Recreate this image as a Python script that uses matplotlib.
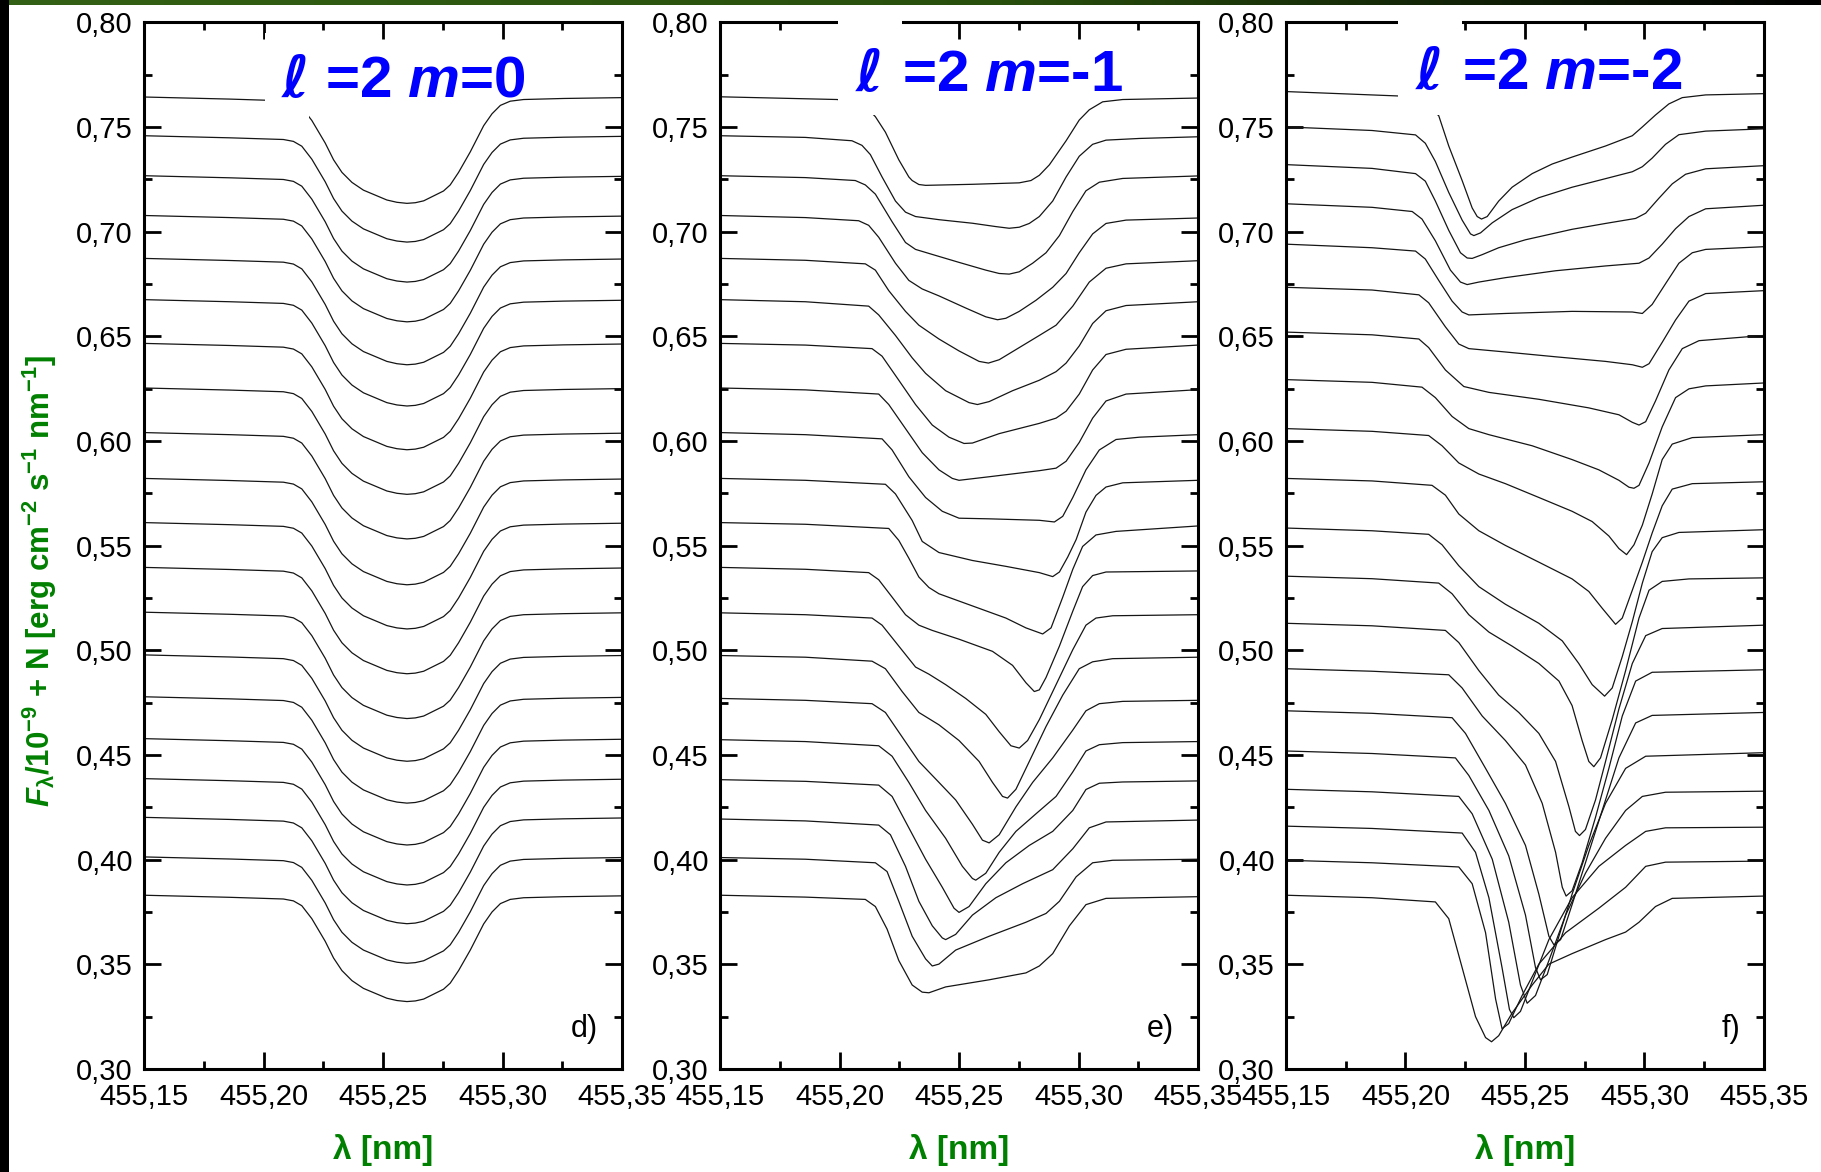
import numpy as np
import matplotlib
matplotlib.use('Agg')
import matplotlib.pyplot as plt
from matplotlib.patches import Rectangle
from matplotlib.ticker import MultipleLocator

plt.rcParams['font.family'] = ['Liberation Sans Narrow', 'Liberation Sans', 'DejaVu Sans']
plt.rcParams['mathtext.fontset'] = 'custom'
plt.rcParams['mathtext.rm'] = 'Liberation Sans:bold'
plt.rcParams['mathtext.it'] = 'Liberation Sans:italic:bold'
plt.rcParams['mathtext.bf'] = 'Liberation Sans:bold'

# ---------------- axes ticks ----------------
X_TICKS = [455.15, 455.20, 455.25, 455.30, 455.35]
X_TICK_LABELS = ['455,15', '455,20', '455,25', '455,30', '455,35']
Y_TICKS = [0.30, 0.35, 0.40, 0.45, 0.50, 0.55, 0.60, 0.65, 0.70, 0.75, 0.80]
Y_TICK_LABELS = ['0,30', '0,35', '0,40', '0,45', '0,50', '0,55', '0,60', '0,65', '0,70', '0,75', '0,80']

MODES = [r'=2 $m$=0', r'=2 $m$=-1', r'=2 $m$=-2']
LETTERS = ['d)', 'e)', 'f)']

# ---------------- panel d): l=2 m=0, one profile shifted by N ----------------
P1_LEVELS = [0.7643, 0.7458, 0.7267, 0.7077, 0.6872, 0.6675, 0.6466, 0.6253, 0.6040, 0.5821,
             0.5610, 0.5396, 0.5182, 0.4978, 0.4778, 0.4578, 0.4387, 0.4202, 0.4013, 0.3830]
P1_LAM = [455.1500, 455.1860, 455.2083, 455.2125, 455.2160, 455.2202, 455.2258, 455.2293, 455.2328,
          455.2370, 455.2418, 455.2516, 455.2558, 455.2600, 455.2635, 455.2670, 455.2753, 455.2781,
          455.2816, 455.2865, 455.2921, 455.2956, 455.2991, 455.3032, 455.3088, 455.3256, 455.3500]
P1_DEPTH = [0.0000, 0.0010, 0.0018, 0.0027, 0.0050, 0.0112, 0.0220, 0.0300, 0.0360,
            0.0408, 0.0445, 0.0492, 0.0503, 0.0508, 0.0505, 0.0496, 0.0449, 0.0420,
            0.0360, 0.0262, 0.0137, 0.0080, 0.0040, 0.0020, 0.0012, 0.0007, 0.0003]

# ---------------- panel e): l=2 m=-1 ----------------
P2_LAM = [
    [455.1500, 455.1990, 455.2080, 455.2122, 455.2150, 455.2192, 455.2248, 455.2290, 455.2304, 455.2332, 455.2360,
     455.2556, 455.2752, 455.2801, 455.2836, 455.2878, 455.2948, 455.3003, 455.3045, 455.3101, 455.3185, 455.3500],
    [455.1500, 455.1857, 455.2052, 455.2094, 455.2129, 455.2178, 455.2234, 455.2276, 455.2318, 455.2416, 455.2556,
     455.2654, 455.2710, 455.2752, 455.2794, 455.2836, 455.2892, 455.2948, 455.3003, 455.3059, 455.3115, 455.3255, 455.3500],
    [455.1500, 455.1857, 455.2066, 455.2108, 455.2150, 455.2220, 455.2276, 455.2318, 455.2388, 455.2500, 455.2612,
     455.2668, 455.2710, 455.2752, 455.2808, 455.2864, 455.2920, 455.2976, 455.3031, 455.3087, 455.3185, 455.3500],
    [455.1500, 455.1857, 455.2080, 455.2122, 455.2164, 455.2234, 455.2290, 455.2346, 455.2416, 455.2528, 455.2612,
     455.2661, 455.2696, 455.2752, 455.2822, 455.2892, 455.2948, 455.3003, 455.3059, 455.3115, 455.3199, 455.3500],
    [455.1500, 455.1857, 455.2108, 455.2150, 455.2206, 455.2276, 455.2332, 455.2416, 455.2500, 455.2584, 455.2623,
     455.2668, 455.2752, 455.2836, 455.2906, 455.2976, 455.3045, 455.3115, 455.3199, 455.3500],
    [455.1500, 455.1857, 455.2122, 455.2164, 455.2234, 455.2304, 455.2360, 455.2444, 455.2542, 455.2577, 455.2626,
     455.2724, 455.2836, 455.2906, 455.2948, 455.3003, 455.3059, 455.3115, 455.3199, 455.3500],
    [455.1500, 455.1857, 455.2136, 455.2178, 455.2248, 455.2318, 455.2388, 455.2458, 455.2521, 455.2556, 455.2668,
     455.2836, 455.2906, 455.2948, 455.3003, 455.3059, 455.3115, 455.3199, 455.3500],
    [455.1500, 455.1857, 455.2164, 455.2206, 455.2276, 455.2346, 455.2416, 455.2472, 455.2500, 455.2626, 455.2836,
     455.2906, 455.2948, 455.3003, 455.3059, 455.3115, 455.3199, 455.3500],
    [455.1500, 455.1857, 455.2178, 455.2220, 455.2290, 455.2360, 455.2430, 455.2500, 455.2626, 455.2836, 455.2899,
     455.2934, 455.2976, 455.3031, 455.3087, 455.3157, 455.3255, 455.3500],
    [455.1500, 455.1857, 455.2192, 455.2234, 455.2304, 455.2346, 455.2416, 455.2556, 455.2696, 455.2836, 455.2892,
     455.2920, 455.2955, 455.2990, 455.3031, 455.3073, 455.3115, 455.3185, 455.3500],
    [455.1500, 455.1857, 455.2206, 455.2248, 455.2290, 455.2332, 455.2374, 455.2416, 455.2556, 455.2696, 455.2780,
     455.2850, 455.2885, 455.2934, 455.2976, 455.3017, 455.3073, 455.3157, 455.3500],
    [455.1500, 455.1857, 455.2122, 455.2164, 455.2220, 455.2276, 455.2332, 455.2388, 455.2500, 455.2640, 455.2724,
     455.2780, 455.2815, 455.2836, 455.2864, 455.2920, 455.2976, 455.3017, 455.3059, 455.3115, 455.3500],
    [455.1500, 455.1857, 455.2136, 455.2178, 455.2248, 455.2318, 455.2374, 455.2444, 455.2528, 455.2612, 455.2668,
     455.2717, 455.2752, 455.2787, 455.2836, 455.2906, 455.2976, 455.3031, 455.3073, 455.3143, 455.3500],
    [455.1500, 455.1857, 455.2136, 455.2192, 455.2262, 455.2332, 455.2416, 455.2500, 455.2584, 455.2640, 455.2682,
     455.2703, 455.2738, 455.2794, 455.2864, 455.2934, 455.3003, 455.3059, 455.3143, 455.3500],
    [455.1500, 455.1857, 455.2136, 455.2192, 455.2262, 455.2332, 455.2416, 455.2486, 455.2556, 455.2598, 455.2626,
     455.2668, 455.2738, 455.2808, 455.2892, 455.2976, 455.3031, 455.3087, 455.3185, 455.3500],
    [455.1500, 455.1857, 455.2164, 455.2220, 455.2290, 455.2360, 455.2444, 455.2514, 455.2556, 455.2570, 455.2612,
     455.2668, 455.2738, 455.2822, 455.2906, 455.2976, 455.3031, 455.3087, 455.3185, 455.3500],
    [455.1500, 455.1857, 455.2164, 455.2220, 455.2290, 455.2360, 455.2430, 455.2479, 455.2500, 455.2542, 455.2612,
     455.2696, 455.2794, 455.2892, 455.2976, 455.3031, 455.3087, 455.3185, 455.3500],
    [455.1500, 455.1857, 455.2164, 455.2213, 455.2276, 455.2332, 455.2388, 455.2430, 455.2444, 455.2486, 455.2556,
     455.2654, 455.2766, 455.2892, 455.2976, 455.3045, 455.3115, 455.3500],
    [455.1500, 455.1857, 455.2150, 455.2199, 455.2248, 455.2304, 455.2360, 455.2388, 455.2416, 455.2486, 455.2626,
     455.2780, 455.2864, 455.2920, 455.2990, 455.3059, 455.3143, 455.3500],
    [455.1500, 455.1857, 455.2108, 455.2150, 455.2199, 455.2248, 455.2304, 455.2346, 455.2374, 455.2444, 455.2626,
     455.2780, 455.2836, 455.2892, 455.2962, 455.3031, 455.3115, 455.3500],
]
P2_FLUX = [
    [0.7644, 0.7631, 0.7610, 0.7582, 0.7549, 0.7475, 0.7343, 0.7261, 0.7244, 0.7225, 0.7221,
     0.7226, 0.7233, 0.7244, 0.7269, 0.7319, 0.7434, 0.7533, 0.7582, 0.7620, 0.7631, 0.7638],
    [0.7458, 0.7450, 0.7434, 0.7412, 0.7368, 0.7261, 0.7146, 0.7093, 0.7072, 0.7057, 0.7040,
     0.7024, 0.7016, 0.7021, 0.7039, 0.7072, 0.7146, 0.7261, 0.7360, 0.7417, 0.7437, 0.7445, 0.7453],
    [0.7267, 0.7258, 0.7244, 0.7223, 0.7179, 0.7047, 0.6948, 0.6915, 0.6891, 0.6853, 0.6816,
     0.6800, 0.6797, 0.6808, 0.6849, 0.6899, 0.6981, 0.7096, 0.7195, 0.7236, 0.7254, 0.7266],
    [0.7077, 0.7067, 0.7052, 0.7030, 0.6973, 0.6849, 0.6767, 0.6726, 0.6693, 0.6635, 0.6593,
     0.6579, 0.6586, 0.6619, 0.6672, 0.6734, 0.6800, 0.6899, 0.6989, 0.7039, 0.7055, 0.7065],
    [0.6872, 0.6863, 0.6846, 0.6816, 0.6718, 0.6619, 0.6553, 0.6487, 0.6430, 0.6380, 0.6372,
     0.6388, 0.6446, 0.6504, 0.6553, 0.6644, 0.6759, 0.6825, 0.6846, 0.6861],
    [0.6675, 0.6665, 0.6644, 0.6602, 0.6504, 0.6397, 0.6323, 0.6240, 0.6183, 0.6174, 0.6188,
     0.6240, 0.6290, 0.6331, 0.6372, 0.6454, 0.6561, 0.6622, 0.6647, 0.6665],
    [0.6466, 0.6458, 0.6441, 0.6405, 0.6290, 0.6174, 0.6076, 0.6018, 0.5988, 0.5990, 0.6035,
     0.6084, 0.6109, 0.6142, 0.6224, 0.6339, 0.6413, 0.6438, 0.6458],
    [0.6253, 0.6244, 0.6224, 0.6174, 0.6059, 0.5944, 0.5862, 0.5821, 0.5812, 0.5829, 0.5858,
     0.5870, 0.5903, 0.5993, 0.6109, 0.6191, 0.6224, 0.6245],
    [0.6040, 0.6030, 0.6010, 0.5957, 0.5829, 0.5730, 0.5664, 0.5631, 0.5628, 0.5621, 0.5613,
     0.5640, 0.5730, 0.5862, 0.5957, 0.6007, 0.6018, 0.6030],
    [0.5821, 0.5812, 0.5793, 0.5747, 0.5620, 0.5520, 0.5467, 0.5429, 0.5401, 0.5371, 0.5352,
     0.5374, 0.5446, 0.5529, 0.5660, 0.5740, 0.5780, 0.5800, 0.5812],
    [0.5610, 0.5602, 0.5582, 0.5525, 0.5440, 0.5350, 0.5300, 0.5270, 0.5212, 0.5154, 0.5107,
     0.5078, 0.5107, 0.5254, 0.5387, 0.5496, 0.5551, 0.5568, 0.5594],
    [0.5396, 0.5387, 0.5371, 0.5337, 0.5254, 0.5170, 0.5120, 0.5095, 0.5053, 0.4995, 0.4928,
     0.4845, 0.4803, 0.4811, 0.4870, 0.5020, 0.5187, 0.5304, 0.5357, 0.5374, 0.5379],
    [0.5179, 0.5170, 0.5154, 0.5120, 0.5020, 0.4920, 0.4886, 0.4836, 0.4770, 0.4694, 0.4611,
     0.4544, 0.4533, 0.4569, 0.4669, 0.4836, 0.5003, 0.5120, 0.5154, 0.5165, 0.5170],
    [0.4975, 0.4967, 0.4948, 0.4912, 0.4803, 0.4703, 0.4644, 0.4569, 0.4469, 0.4369, 0.4302,
     0.4294, 0.4336, 0.4469, 0.4636, 0.4786, 0.4912, 0.4945, 0.4960, 0.4967],
    [0.4770, 0.4761, 0.4745, 0.4703, 0.4586, 0.4469, 0.4369, 0.4285, 0.4169, 0.4093, 0.4080,
     0.4119, 0.4252, 0.4369, 0.4486, 0.4619, 0.4711, 0.4745, 0.4756, 0.4761],
    [0.4573, 0.4564, 0.4544, 0.4494, 0.4369, 0.4235, 0.4102, 0.3968, 0.3910, 0.3902, 0.3935,
     0.4035, 0.4135, 0.4219, 0.4302, 0.4419, 0.4519, 0.4549, 0.4559, 0.4564],
    [0.4382, 0.4374, 0.4356, 0.4302, 0.4152, 0.4002, 0.3868, 0.3768, 0.3748, 0.3776, 0.3885,
     0.3985, 0.4068, 0.4135, 0.4235, 0.4335, 0.4365, 0.4371, 0.4376],
    [0.4194, 0.4185, 0.4165, 0.4119, 0.3968, 0.3801, 0.3684, 0.3626, 0.3618, 0.3643, 0.3735,
     0.3818, 0.3885, 0.3952, 0.4052, 0.4152, 0.4180, 0.4189],
    [0.4010, 0.4002, 0.3985, 0.3943, 0.3801, 0.3634, 0.3526, 0.3492, 0.3501, 0.3568, 0.3634,
     0.3701, 0.3743, 0.3801, 0.3918, 0.3985, 0.3997, 0.4002],
    [0.3830, 0.3821, 0.3810, 0.3776, 0.3668, 0.3518, 0.3401, 0.3367, 0.3364, 0.3392, 0.3426,
     0.3459, 0.3492, 0.3551, 0.3684, 0.3785, 0.3815, 0.3823],
]

# ---------------- panel f): l=2 m=-2 ----------------
P3_LAM = [
    [455.1500, 455.1969, 455.2042, 455.2097, 455.2139, 455.2181, 455.2237, 455.2279, 455.2300, 455.2318, 455.2342, 455.2390,
     455.2446, 455.2530, 455.2614, 455.2697, 455.2837, 455.2949, 455.2991, 455.3046, 455.3102, 455.3158, 455.3256, 455.3500],
    [455.1500, 455.1860, 455.2042, 455.2083, 455.2125, 455.2181, 455.2237, 455.2272, 455.2286, 455.2314, 455.2363,
     455.2446, 455.2558, 455.2697, 455.2837, 455.2949, 455.2991, 455.3032, 455.3088, 455.3144, 455.3256, 455.3500],
    [455.1500, 455.1860, 455.2042, 455.2083, 455.2125, 455.2181, 455.2230, 455.2258, 455.2279, 455.2321, 455.2390,
     455.2502, 455.2697, 455.2837, 455.2963, 455.3005, 455.3060, 455.3116, 455.3172, 455.3256, 455.3500],
    [455.1500, 455.1860, 455.2028, 455.2069, 455.2125, 455.2188, 455.2230, 455.2258, 455.2307, 455.2418, 455.2628,
     455.2837, 455.2977, 455.3019, 455.3074, 455.3130, 455.3186, 455.3256, 455.3500],
    [455.1500, 455.1860, 455.2042, 455.2083, 455.2139, 455.2195, 455.2237, 455.2265, 455.2418, 455.2697, 455.2949,
     455.2991, 455.3032, 455.3088, 455.3144, 455.3200, 455.3256, 455.3500],
    [455.1500, 455.1860, 455.2056, 455.2097, 455.2167, 455.2223, 455.2265, 455.2418, 455.2628, 455.2837, 455.2949,
     455.2991, 455.3019, 455.3074, 455.3130, 455.3186, 455.3256, 455.3500],
    [455.1500, 455.1860, 455.2056, 455.2097, 455.2167, 455.2244, 455.2349, 455.2558, 455.2767, 455.2893, 455.2949,
     455.2977, 455.3005, 455.3046, 455.3102, 455.3158, 455.3228, 455.3500],
    [455.1500, 455.1860, 455.2069, 455.2125, 455.2195, 455.2265, 455.2349, 455.2530, 455.2697, 455.2809, 455.2893,
     455.2935, 455.2956, 455.2977, 455.3019, 455.3074, 455.3130, 455.3186, 455.3256, 455.3500],
    [455.1500, 455.1860, 455.2097, 455.2153, 455.2223, 455.2307, 455.2418, 455.2558, 455.2697, 455.2781, 455.2851,
     455.2893, 455.2925, 455.2956, 455.2991, 455.3032, 455.3074, 455.3116, 455.3200, 455.3500],
    [455.1500, 455.1860, 455.2111, 455.2167, 455.2223, 455.2307, 455.2418, 455.2558, 455.2697, 455.2767, 455.2823,
     455.2879, 455.2907, 455.2949, 455.2991, 455.3032, 455.3074, 455.3116, 455.3200, 455.3500],
    [455.1500, 455.1860, 455.2097, 455.2153, 455.2223, 455.2307, 455.2418, 455.2558, 455.2656, 455.2725, 455.2781,
     455.2833, 455.2865, 455.2907, 455.2949, 455.2991, 455.3032, 455.3074, 455.3144, 455.3500],
    [455.1500, 455.1860, 455.2139, 455.2195, 455.2265, 455.2349, 455.2446, 455.2558, 455.2642, 455.2697, 455.2739,
     455.2767, 455.2788, 455.2816, 455.2865, 455.2921, 455.2977, 455.3019, 455.3074, 455.3186, 455.3500],
    [455.1500, 455.1860, 455.2167, 455.2223, 455.2307, 455.2390, 455.2474, 455.2558, 455.2628, 455.2684, 455.2711,
     455.2728, 455.2753, 455.2795, 455.2837, 455.2893, 455.2949, 455.3005, 455.3074, 455.3500],
    [455.1500, 455.1860, 455.2181, 455.2237, 455.2321, 455.2418, 455.2502, 455.2572, 455.2628, 455.2656, 455.2672,
     455.2697, 455.2739, 455.2795, 455.2851, 455.2907, 455.2963, 455.3032, 455.3500],
    [455.1500, 455.1860, 455.2195, 455.2251, 455.2335, 455.2418, 455.2502, 455.2558, 455.2600, 455.2621, 455.2649,
     455.2697, 455.2753, 455.2823, 455.2893, 455.2963, 455.3032, 455.3500],
    [455.1500, 455.1860, 455.2209, 455.2265, 455.2349, 455.2432, 455.2502, 455.2544, 455.2565, 455.2593, 455.2642,
     455.2697, 455.2767, 455.2837, 455.2921, 455.3005, 455.3500],
    [455.1500, 455.1860, 455.2223, 455.2279, 455.2363, 455.2432, 455.2481, 455.2509, 455.2544, 455.2600, 455.2670,
     455.2753, 455.2837, 455.2921, 455.2991, 455.3088, 455.3500],
    [455.1500, 455.1860, 455.2237, 455.2293, 455.2349, 455.2404, 455.2435, 455.2453, 455.2481, 455.2530, 455.2600,
     455.2697, 455.2809, 455.2921, 455.3005, 455.3088, 455.3500],
    [455.1500, 455.1860, 455.2223, 455.2279, 455.2335, 455.2377, 455.2404, 455.2432, 455.2488, 455.2558, 455.2670,
     455.2809, 455.2921, 455.3005, 455.3088, 455.3500],
    [455.1500, 455.1860, 455.2125, 455.2181, 455.2237, 455.2293, 455.2335, 455.2360, 455.2390, 455.2446, 455.2530,
     455.2600, 455.2697, 455.2837, 455.2921, 455.2977, 455.3046, 455.3116, 455.3500],
]
P3_FLUX = [
    [0.7669, 0.7648, 0.7623, 0.7593, 0.7554, 0.7409, 0.7244, 0.7113, 0.7072, 0.7060, 0.7072, 0.7146,
     0.7212, 0.7277, 0.7323, 0.7356, 0.7409, 0.7458, 0.7500, 0.7557, 0.7610, 0.7640, 0.7653, 0.7659],
    [0.7500, 0.7483, 0.7462, 0.7422, 0.7335, 0.7187, 0.7055, 0.6989, 0.6981, 0.6994, 0.7042,
     0.7105, 0.7162, 0.7212, 0.7253, 0.7286, 0.7310, 0.7351, 0.7417, 0.7463, 0.7480, 0.7491],
    [0.7320, 0.7302, 0.7277, 0.7241, 0.7146, 0.7006, 0.6899, 0.6874, 0.6872, 0.6890, 0.6923,
     0.6961, 0.7011, 0.7039, 0.7063, 0.7088, 0.7159, 0.7228, 0.7274, 0.7300, 0.7315],
    [0.7133, 0.7116, 0.7096, 0.7060, 0.6956, 0.6816, 0.6759, 0.6747, 0.6759, 0.6780, 0.6813,
     0.6836, 0.6849, 0.6874, 0.6940, 0.7014, 0.7072, 0.7109, 0.7126],
    [0.6940, 0.6923, 0.6907, 0.6869, 0.6767, 0.6668, 0.6616, 0.6602, 0.6609, 0.6619, 0.6616,
     0.6609, 0.6652, 0.6751, 0.6849, 0.6899, 0.6915, 0.6928],
    [0.6734, 0.6721, 0.6698, 0.6660, 0.6545, 0.6463, 0.6441, 0.6425, 0.6402, 0.6380, 0.6364,
     0.6352, 0.6369, 0.6471, 0.6578, 0.6668, 0.6704, 0.6718],
    [0.6520, 0.6507, 0.6487, 0.6446, 0.6339, 0.6260, 0.6232, 0.6199, 0.6158, 0.6125, 0.6089,
     0.6076, 0.6092, 0.6191, 0.6339, 0.6441, 0.6479, 0.6504],
    [0.6293, 0.6280, 0.6257, 0.6207, 0.6117, 0.6059, 0.6030, 0.5977, 0.5911, 0.5862, 0.5812,
     0.5779, 0.5774, 0.5788, 0.5895, 0.6067, 0.6207, 0.6249, 0.6263, 0.6277],
    [0.6059, 0.6046, 0.6026, 0.5977, 0.5895, 0.5842, 0.5796, 0.5730, 0.5664, 0.5615, 0.5546,
     0.5486, 0.5457, 0.5504, 0.5598, 0.5746, 0.5911, 0.5985, 0.6016, 0.6030],
    [0.5821, 0.5809, 0.5788, 0.5741, 0.5651, 0.5571, 0.5501, 0.5421, 0.5341, 0.5281, 0.5201,
     0.5124, 0.5154, 0.5287, 0.5421, 0.5560, 0.5690, 0.5770, 0.5796, 0.5805],
    [0.5584, 0.5571, 0.5554, 0.5504, 0.5404, 0.5304, 0.5220, 0.5129, 0.5045, 0.4937, 0.4836,
     0.4781, 0.4820, 0.4970, 0.5137, 0.5321, 0.5471, 0.5538, 0.5563, 0.5576],
    [0.5354, 0.5342, 0.5321, 0.5270, 0.5170, 0.5087, 0.5020, 0.4937, 0.4853, 0.4736, 0.4569,
     0.4469, 0.4444, 0.4486, 0.4669, 0.4903, 0.5154, 0.5287, 0.5329, 0.5341, 0.5346],
    [0.5129, 0.5117, 0.5095, 0.5037, 0.4903, 0.4786, 0.4703, 0.4603, 0.4469, 0.4252, 0.4135,
     0.4115, 0.4144, 0.4285, 0.4469, 0.4720, 0.4937, 0.5070, 0.5104, 0.5120],
    [0.4912, 0.4900, 0.4883, 0.4820, 0.4686, 0.4569, 0.4452, 0.4269, 0.4035, 0.3868, 0.3826,
     0.3851, 0.3985, 0.4202, 0.4436, 0.4686, 0.4853, 0.4895, 0.4907],
    [0.4711, 0.4699, 0.4678, 0.4603, 0.4436, 0.4269, 0.4068, 0.3835, 0.3634, 0.3593, 0.3618,
     0.3785, 0.3985, 0.4235, 0.4486, 0.4653, 0.4689, 0.4703],
    [0.4519, 0.4507, 0.4486, 0.4402, 0.4235, 0.4018, 0.3735, 0.3484, 0.3426, 0.3451, 0.3634,
     0.3835, 0.4068, 0.4269, 0.4436, 0.4494, 0.4511],
    [0.4336, 0.4324, 0.4302, 0.4219, 0.4002, 0.3701, 0.3401, 0.3314, 0.3351, 0.3518, 0.3735,
     0.3935, 0.4102, 0.4235, 0.4302, 0.4322, 0.4327],
    [0.4160, 0.4149, 0.4127, 0.4035, 0.3818, 0.3484, 0.3284, 0.3245, 0.3275, 0.3417, 0.3618,
     0.3818, 0.3968, 0.4068, 0.4135, 0.4152, 0.4155],
    [0.3997, 0.3985, 0.3965, 0.3885, 0.3651, 0.3334, 0.3192, 0.3217, 0.3351, 0.3501, 0.3651,
     0.3768, 0.3868, 0.3968, 0.3988, 0.3993],
    [0.3830, 0.3818, 0.3798, 0.3718, 0.3484, 0.3250, 0.3150, 0.3130, 0.3159, 0.3267, 0.3401,
     0.3501, 0.3551, 0.3618, 0.3654, 0.3701, 0.3776, 0.3815, 0.3826],
]

GREEN = '#008000'
BLUE = '#0000ff'
LINE_COLOR = '#151515'

fig = plt.figure(figsize=(18.21, 11.72), dpi=100)
fig.patch.set_facecolor('white')

# panel geometry in figure fractions
lefts = [0.0791, 0.3954, 0.7062]
width, bottom, height = 0.2625, 0.0879, 0.8931

# white boxes behind the mode labels (x0, x1, y0, y1, over spine?)
boxes = [(0.252, 0.345, 0.900, 0.990, False),
         (0.247, 0.381, 0.911, 1.012, True),
         (0.2345, 0.3685, 0.911, 1.012, True)]
# (x of the ell, x where "=2 ..." starts, baseline)
title_pos = [(0.316, 0.379, 0.929), (0.312, 0.381, 0.934), (0.300, 0.368, 0.936)]

axes = []
for i, left in enumerate(lefts):
    ax = fig.add_axes([left, bottom, width, height])
    axes.append(ax)
    ax.set_xlim(455.15, 455.35)
    ax.set_ylim(0.30, 0.80)
    ax.set_xticks(X_TICKS)
    ax.set_xticklabels(X_TICK_LABELS)
    ax.set_yticks(Y_TICKS)
    ax.set_yticklabels(Y_TICK_LABELS)
    ax.xaxis.set_minor_locator(MultipleLocator(0.025))
    ax.yaxis.set_minor_locator(MultipleLocator(0.025))
    ax.tick_params(which='both', direction='in', top=True, right=True, width=2, colors='black')
    ax.tick_params(which='major', length=12, labelsize=21)
    ax.tick_params(axis='x', which='major', pad=10)
    ax.tick_params(axis='y', which='major', pad=8)
    ax.tick_params(which='minor', length=6)
    for sp in ax.spines.values():
        sp.set_linewidth(2.2)

    x0, x1, y0, y1, over = boxes[i]
    ax.add_patch(Rectangle((x0, y0), x1 - x0, y1 - y0, transform=ax.transAxes,
                           facecolor='white', edgecolor='none',
                           zorder=3 if over else 2.2, clip_on=False))
    lx, mx, ty = title_pos[i]
    ax.text(lx, ty, 'ℓ', transform=ax.transAxes, ha='center', va='baseline',
            fontsize=42, fontweight='bold', fontstyle='italic', color=BLUE,
            family=['DejaVu Sans', 'Noto Sans', 'DejaVu Serif'], zorder=5)
    ax.text(mx, ty, MODES[i], transform=ax.transAxes, ha='left', va='baseline',
            fontsize=42, fontweight='bold', color=BLUE, family='Liberation Sans', zorder=5)
    ax.text(0.95, 0.031, LETTERS[i], transform=ax.transAxes, ha='right', va='baseline',
            fontsize=22, zorder=5)
    ax.text(0.5, -0.0774, 'λ [nm]', transform=ax.transAxes, ha='center', va='center',
            fontsize=24, fontweight='bold', color=GREEN, family='Liberation Sans')

# d) same profile for every N
lam1 = np.array(P1_LAM)
for level in P1_LEVELS:
    axes[0].plot(lam1, level - np.array(P1_DEPTH), color=LINE_COLOR, lw=0.9, zorder=2)

# e) and f)
for lam, flux in zip(P2_LAM, P2_FLUX):
    axes[1].plot(lam, flux, color=LINE_COLOR, lw=0.9, zorder=2)
for lam, flux in zip(P3_LAM, P3_FLUX):
    axes[2].plot(lam, flux, color=LINE_COLOR, lw=0.9, zorder=2)

fig.text(0.022, 0.504,
         r'$F_{\mathrm{\lambda}}$/10$^{-9}$ + N [erg cm$^{-2}$ s$^{-1}$ nm$^{-1}$]',
         rotation=90, ha='center', va='center', fontsize=22.5, fontweight='bold',
         color=GREEN, family='Liberation Sans')

# frame decoration: green band on top, black strip on the left
band = fig.add_axes([0, 1 - 5 / 1172, 1, 5 / 1172])
pos = np.linspace(0, 1, 400)
stops = [0.0, 0.55, 0.85, 1.0]
rgb = np.stack([np.interp(pos, stops, [0.20, 0.16, 0.05, 0.0]),
                np.interp(pos, stops, [0.38, 0.31, 0.10, 0.0]),
                np.interp(pos, stops, [0.08, 0.05, 0.02, 0.0])], axis=-1)
band.imshow(rgb[None, :, :], aspect='auto', extent=(0, 1, 0, 1))
band.set_axis_off()
fig.add_artist(Rectangle((0, 0), 9 / 1821, 1, transform=fig.transFigure,
                         facecolor='black', edgecolor='none', zorder=10))

fig.savefig('out.png', dpi=100, facecolor='white')
